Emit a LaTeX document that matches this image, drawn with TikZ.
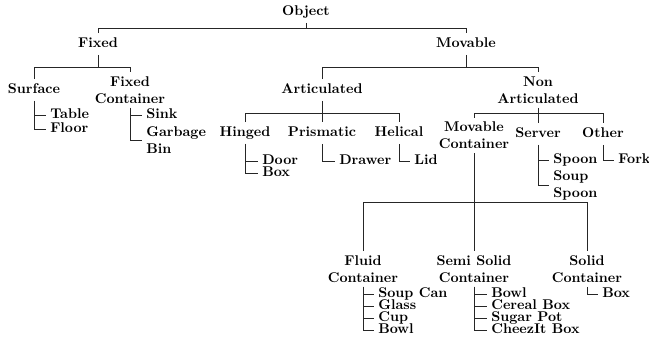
\documentclass[tikz,border=0pt]{standalone}
\begin{document}
\begin{tikzpicture}[x=0.7092pt,y=-0.7092pt,
  every node/.style={font=\bfseries},
  inode/.style={inner xsep=2pt,inner ysep=3pt,text height=7pt,text depth=2pt},
  mnode/.style={inner xsep=2pt,inner ysep=3pt,align=center},
  leaf/.style={anchor=west,inner xsep=3pt,inner ysep=1pt,text height=7pt,text depth=2pt,xshift=-3pt},
  mleaf/.style={anchor=west,inner xsep=3pt,inner ysep=1pt,align=left,xshift=-3pt},
  conn/.style={draw=black!85,line width=0.6pt}]
\useasboundingbox (0,0) rectangle (649,343);
% internal nodes
\node[inode] (obj) at (306,12) {Object};
\node[inode] (fixed) at (98,44) {Fixed};
\node[inode] (movable) at (466,44) {Movable};
\node[inode] (surface) at (34,90) {Surface};
\node[mnode] (fixcont) at (130,90) {Fixed\\Container};
\node[inode] (artic) at (322,90) {Articulated};
\node[mnode] (nonart) at (538,90) {Non\\Articulated};
\node[inode] (hinged) at (245,133) {Hinged};
\node[inode] (prism) at (322,133) {Prismatic};
\node[inode] (helical) at (399,133) {Helical};
\node[mnode] (movcont) at (474,135.5) {Movable\\Container};
\node[inode] (server) at (538,134) {Server};
\node[inode] (other) at (603,134) {Other};
\node[mnode] (fluid) at (363,269) {Fluid\\Container};
\node[mnode] (semi) at (474,269) {Semi Solid\\Container};
\node[mnode] (solid) at (587,269) {Solid\\Container};
% leaves
\node[leaf] (table) at (50,115) {Table};
\node[leaf] (floor) at (50,129) {Floor};
\node[leaf] (sink) at (146,115) {Sink};
\node[mleaf] (garbage) at (146,140) {Garbage\\Bin};
\node[leaf] (door) at (262,161) {Door};
\node[leaf] (boxa) at (262,173) {Box};
\node[leaf] (drawer) at (339,161) {Drawer};
\node[leaf] (lid) at (414,161) {Lid};
\node[leaf] (spoon) at (553,160) {Spoon};
\node[mleaf] (soupspoon) at (553,185) {Soup\\Spoon};
\node[leaf] (fork) at (618,160) {Fork};
\node[leaf] (soupcan) at (378,294) {Soup Can};
\node[leaf] (glass) at (378,306) {Glass};
\node[leaf] (cup) at (378,318) {Cup};
\node[leaf] (bowla) at (378,330) {Bowl};
\node[leaf] (bowlb) at (491,294) {Bowl};
\node[leaf] (cereal) at (491,306) {Cereal Box};
\node[leaf] (sugar) at (491,318) {Sugar Pot};
\node[leaf] (cheez) at (491,330) {CheezIt Box};
\node[leaf] (boxb) at (602,294) {Box};
% tree connectors
\draw[conn] (obj.south) -- (obj.south |- 0,28);
\draw[conn] (fixed.north) |- (movable.north |- 0,28) -- (movable.north);
\draw[conn] (fixed.south) -- (fixed.south |- 0,67);
\draw[conn] (surface.north) |- (fixcont.north |- 0,67) -- (fixcont.north);
\draw[conn] (movable.south) -- (movable.south |- 0,67);
\draw[conn] (artic.north) |- (nonart.north |- 0,67) -- (nonart.north);
\draw[conn] (artic.south) -- (artic.south |- prism.north);
\draw[conn] (hinged.north) |- (helical.north |- 0,113) -- (helical.north);
\draw[conn] (nonart.south) -- (nonart.south |- server.north);
\draw[conn] (movcont.north) |- (other.north |- 0,113) -- (other.north);
\draw[conn] (movcont.south) -- (movcont.south |- semi.north);
\draw[conn] (fluid.north) |- (solid.north |- 0,202) -- (solid.north);
% leaf connectors
\foreach \p/\c in {surface/table,surface/floor,fixcont/sink,fixcont/garbage,
  hinged/door,hinged/boxa,prism/drawer,helical/lid,server/spoon,server/soupspoon,
  other/fork,fluid/soupcan,fluid/glass,fluid/cup,fluid/bowla,
  semi/bowlb,semi/cereal,semi/sugar,semi/cheez,solid/boxb}
  \draw[conn] (\p.south) |- (\c.west);
\end{tikzpicture}
\end{document}
